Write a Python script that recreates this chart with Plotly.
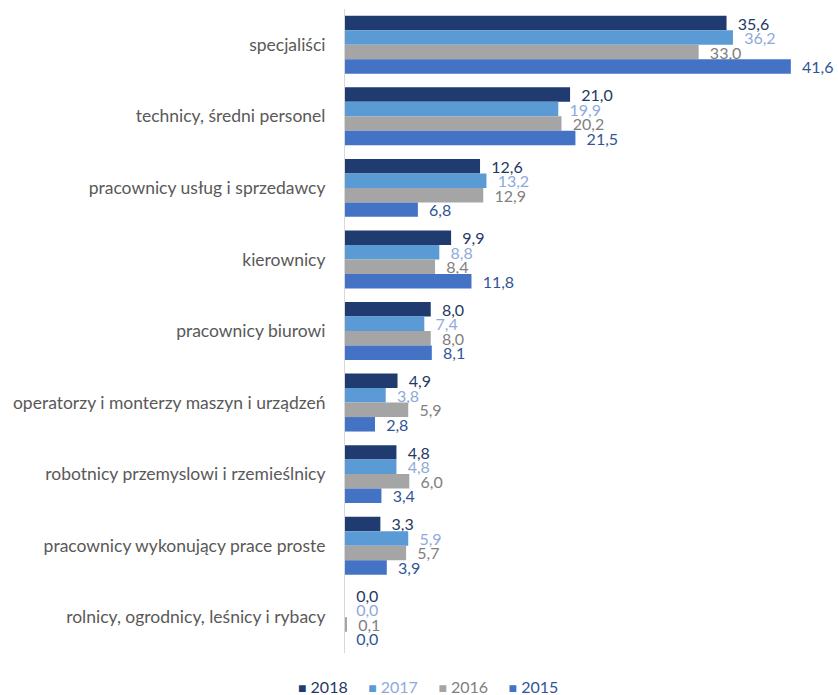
import plotly.graph_objects as go

categories = [
    "specjaliści",
    "technicy, średni personel",
    "pracownicy usług i sprzedawcy",
    "kierownicy",
    "pracownicy biurowi",
    "operatorzy i monterzy maszyn i urządzeń",
    "robotnicy przemyslowi i rzemieślnicy",
    "pracownicy wykonujący prace proste",
    "rolnicy, ogrodnicy, leśnicy i rybacy",
]
years = ["2018", "2017", "2016", "2015"]
v2018 = [35.6, 21.0, 12.6, 9.9, 8.0, 4.9, 4.8, 3.3, 0.0]
v2017 = [36.2, 19.9, 13.2, 8.8, 7.4, 3.8, 4.8, 5.9, 0.0]
v2016 = [33.0, 20.2, 12.9, 8.4, 8.0, 5.9, 6.0, 5.7, 0.1]
v2015 = [41.6, 21.5, 6.8, 11.8, 8.1, 2.8, 3.4, 3.9, 0.0]
series = [v2018, v2017, v2016, v2015]

bar_colors = ["#1F3B70", "#5B9BD5", "#A5A5A5", "#4472C4"]
text_colors = ["#1F3864", "#8EAADB", "#808080", "#2F5597"]

fig = go.Figure()
for name, vals, bc, tc in zip(years, series, bar_colors, text_colors):
    fig.add_trace(go.Bar(
        y=categories, x=vals, orientation="h",
        name=name, showlegend=False,
        marker=dict(color=bc, line=dict(width=0)),
        text=["\u00a0\u00a0" + f"{v:.1f}".replace(".", ",") for v in vals],
        textposition="outside",
        textfont=dict(color=tc, size=16, family="Lato"),
        constraintext="none",
        cliponaxis=False,
    ))

# legend drawn as one centred line of text
parts = []
for name, bc, tc in zip(years, bar_colors, text_colors):
    parts.append(
        f"<span style='color:{bc};font-size:14px'>■</span>"
        f"\u00a0<span style='color:{tc}'>{name}</span>"
    )
legend_text = "\u00a0\u00a0\u00a0\u00a0\u00a0".join(parts)

fig.add_annotation(
    text=legend_text, xref="paper", yref="paper",
    x=(428 - 345) / 493, y=-(686 - 653) / 644,
    xanchor="center", yanchor="middle", showarrow=False,
    font=dict(family="Lato", size=16),
)

fig.update_layout(
    width=838, height=695,
    barmode="group", bargap=0.19, bargroupgap=0.0,
    margin=dict(l=345, r=0, t=9, b=42, autoexpand=False),
    plot_bgcolor="white", paper_bgcolor="white",
    font=dict(family="Lato", size=17, color="#595959"),
    showlegend=False,
    xaxis=dict(range=[0, 46], visible=False),
    yaxis=dict(autorange="reversed", showline=True, linecolor="#D9D9D9",
               linewidth=1, ticks="", ticklabelstandoff=15,
               tickfont=dict(size=17.5, color="#595959")),
)

fig.write_html("out.html", config={"displayModeBar": False},
               post_script="document.body.style.margin='0';document.body.style.padding='0';")
